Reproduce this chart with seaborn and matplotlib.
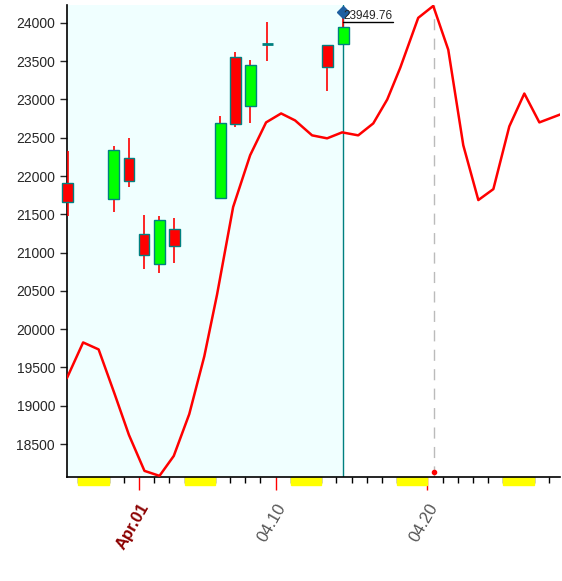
import numpy as np
import pandas as pd
import matplotlib
matplotlib.use("Agg")
import matplotlib.pyplot as plt
import matplotlib.transforms as mtransforms
import seaborn as sns

# x in days of April (fractional), prices in index points
candle_day = [-3.68, -0.65, 0.34, 1.33, 2.32, 3.31, 6.34, 7.33, 8.32, 9.44, 13.39, 14.45]
candle_open = [21913, 21705, 22229, 21237, 20848, 21302, 21718, 23550, 22913, 23727, 23710, 23723]
candle_close = [21666, 22346, 21939, 20965, 21424, 21082, 22692, 22679, 23450, 23727, 23424, 23949.76]
candle_high = [22333, 22389, 22493, 21489, 21476, 21450, 22788, 23619, 23515, 24009, 23710, 24143]
candle_low = [21484, 21527, 21857, 20791, 20740, 20869, 21701, 22636, 22688, 23502, 23112, 23723]

line_day = [-3.75, -2.68, -1.66, -0.60, 0.34, 1.36, 2.35, 3.29, 4.31, 5.30, 6.14, 7.20, 8.32,
            9.37, 10.36, 11.28, 12.40, 13.39, 14.38, 15.44, 16.43, 17.35, 18.21, 19.39, 20.38,
            21.37, 22.36, 23.35, 24.34, 25.39, 26.38, 27.37, 28.75]
line_val = [19360, 19827, 19736, 19151, 18618, 18150, 18085, 18345, 18891, 19645, 20451,
            21595, 22271, 22700, 22817, 22726, 22531, 22492, 22570, 22531, 22687, 22999, 23415,
            24065, 24221, 23649, 22401, 21686, 21829, 22648, 23077, 22700, 22804]

weekend_start = [-3, 4, 11, 18, 25]
major_days = [1, 10, 20]
major_labels = ["Apr.01", "04.10", "04.20"]
yticks = list(range(18500, 24001, 500))
cursor_day = 14.42
marker_day = 20.42
last_label = "23949.76"

sns.set_style("white")
plt.rcParams["font.family"] = ["Liberation Sans", "DejaVu Sans"]

fig = plt.figure(figsize=(5.62, 5.81), dpi=100)
ax = fig.add_axes([0.119, 0.179, 0.878, 0.812])
xmin, xmax = -3.75, 28.75
ax.set_xlim(xmin, xmax)
ax.set_ylim(18070, 24230)

ax.axvspan(xmin, cursor_day, color="#F0FFFF", zorder=0)
ax.axvline(cursor_day, color="#008080", lw=1, zorder=1)
ax.axvline(marker_day, color="#BBBBBB", lw=1, ls=(0, (8, 6)), zorder=1)

df = pd.DataFrame({"day": line_day, "val": line_val})
sns.lineplot(data=df, x="day", y="val", color="#FF0000", lw=1.8, ax=ax, zorder=3)

for d, o, c, h, l in zip(candle_day, candle_open, candle_close, candle_high, candle_low):
    ax.vlines(d, l, h, color="#FF0000", lw=1.2, zorder=4, clip_on=False)
    if abs(c - o) < 1:
        ax.hlines(o, d - 0.36, d + 0.36, color="#008080", lw=2, zorder=5)
        continue
    fc = "#00FF00" if c > o else "#FF0000"
    ax.bar(d, abs(c - o), bottom=min(o, c), width=0.72, color=fc, edgecolor="#008080",
           lw=1, zorder=5, clip_on=False)

ax.plot(cursor_day, candle_high[-1], marker="D", color="#1F5FA0", ms=6, zorder=6, clip_on=False)
ax.text(cursor_day + 0.05, 24010, last_label, fontsize=8.5, va="bottom", ha="left", zorder=7)
ax.plot([cursor_day, cursor_day + 3.3], [24010, 24010], color="black", lw=1, zorder=7)
ax.plot(marker_day, 18130, marker="o", color="#FF0000", ms=3, zorder=6)

sns.despine(ax=ax, top=True, right=True)
for s in ["left", "bottom"]:
    ax.spines[s].set_color("black")
    ax.spines[s].set_linewidth(1.2)

ax.set_yticks(yticks)
ax.set_yticklabels([str(v) for v in yticks], fontsize=10)
ax.tick_params(axis="y", length=5, width=1, direction="out", left=True)

ax.set_xticks(major_days)
ax.set_xticklabels(major_labels, rotation=60, ha="right", rotation_mode="anchor", fontsize=12)
ax.tick_params(axis="x", length=9, width=1, color="#FF0000", direction="out", bottom=True, pad=8)
labs = ax.get_xticklabels()
labs[0].set_color("#8B0000")
labs[0].set_fontweight("bold")
for t in labs[1:]:
    t.set_color("#555555")
ax.set_xticks(np.arange(-3, 29), minor=True)
ax.tick_params(axis="x", which="minor", length=4, width=1, color="black", bottom=True)

trans = mtransforms.blended_transform_factory(ax.transData, ax.transAxes)
for w in weekend_start:
    ax.add_patch(plt.Rectangle((w, -0.017), 2, 0.017, transform=trans, color="#FFFF00",
                               clip_on=False, zorder=2))

ax.set_xlabel("")
ax.set_ylabel("")
fig.savefig("out.png", dpi=100)
